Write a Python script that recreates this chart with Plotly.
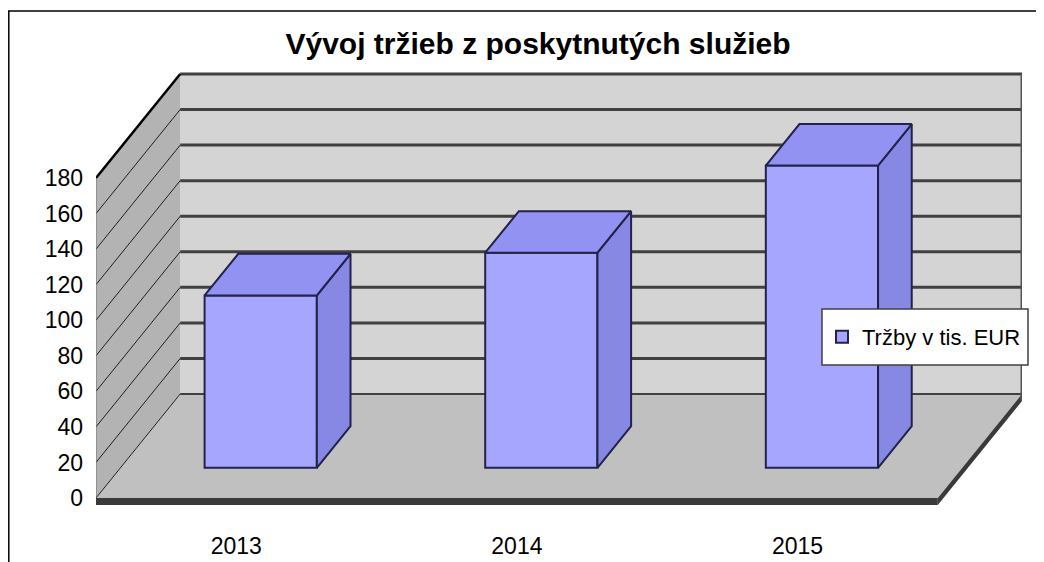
import plotly.graph_objects as go

# ---------------- data ----------------
years = ["2013", "2014", "2015"]
revenue = [97, 121, 170]
y_ticks = [0, 20, 40, 60, 80, 100, 120, 140, 160, 180]
title_text = "Vývoj tržieb z poskytnutých služieb"
series_name = "Tržby v tis. EUR"

# ---------------- 3D geometry (oblique projection in data units) ----------------
DX = 0.30      # full depth offset along x (category units)
DY = 58.5      # full depth offset along y (value units)
D0, D1 = 0.29, 0.69   # bar front / back depth fractions
BW = 0.40      # bar width
YMAX = y_ticks[-1]
FT = 4         # floor thickness (value units)

x_idx = list(range(len(years)))
xl0, xr0 = -0.5, len(years) - 0.5

OFF = 8  # page body margin
W, H = 1044 - OFF, 562 - OFF
ML, MR, MT, MB = 96 - OFF, 22, 71 - OFF, 55
PW, PH = W - ML - MR, H - MT - MB


def ppx(px):  # page pixel -> paper x
    return (px - OFF - ML) / PW


def ppy(py):  # page pixel -> paper y
    return 1 - (py - OFF - MT) / PH


shapes = []
# back wall
shapes.append(dict(type="rect", xref="x", yref="y", x0=xl0 + DX, x1=xr0 + DX, y0=DY, y1=YMAX + DY,
                   fillcolor="#D4D4D4", line=dict(width=0), layer="below"))
# left wall
shapes.append(dict(type="path", xref="x", yref="y",
                   path=f"M{xl0},0 L{xl0 + DX},{DY} L{xl0 + DX},{YMAX + DY} L{xl0},{YMAX} Z",
                   fillcolor="#B3B3B3", line=dict(width=0), layer="below"))
# floor
shapes.append(dict(type="path", xref="x", yref="y",
                   path=f"M{xl0},0 L{xr0},0 L{xr0 + DX},{DY} L{xl0 + DX},{DY} Z",
                   fillcolor="#C0C0C0", line=dict(width=0), layer="below"))
# floor thickness (front and right)
shapes.append(dict(type="rect", xref="x", yref="y", x0=xl0, x1=xr0, y0=-FT, y1=0,
                   fillcolor="#3A3A3A", line=dict(width=0), layer="below"))
shapes.append(dict(type="path", xref="x", yref="y",
                   path=f"M{xr0},0 L{xr0 + DX},{DY} L{xr0 + DX},{DY - FT} L{xr0},{-FT} Z",
                   fillcolor="#3A3A3A", line=dict(width=0), layer="below"))
# back wall gridlines
for v in y_ticks:
    shapes.append(dict(type="line", xref="x", yref="y", x0=xl0 + DX, x1=xr0 + DX, y0=v + DY, y1=v + DY,
                       line=dict(color="#404040", width=3 if v > 0 else 2), layer="below"))
# back wall right edge
shapes.append(dict(type="line", xref="x", yref="y", x0=xr0 + DX, x1=xr0 + DX, y0=DY - FT, y1=YMAX + DY,
                   line=dict(color="#555555", width=3), layer="below"))
# left wall slanted gridlines
for v in y_ticks:
    shapes.append(dict(type="line", xref="x", yref="y", x0=xl0, x1=xl0 + DX, y0=v, y1=v + DY,
                       line=dict(color="#202020", width=1), layer="below"))
# left wall top edge
shapes.append(dict(type="line", xref="x", yref="y", x0=xl0, x1=xl0 + DX, y0=YMAX, y1=YMAX + DY,
                   line=dict(color="#000000", width=2.5), layer="below"))
shapes.append(dict(type="line", xref="x", yref="y", x0=xl0, x1=xl0, y0=0, y1=YMAX,
                   line=dict(color="#707070", width=1), layer="below"))

# outer frame (left and top)
shapes.append(dict(type="line", xref="paper", yref="paper", x0=ppx(8.8), x1=ppx(8.8), y0=ppy(11), y1=ppy(562),
                   line=dict(color="#000000", width=1.5)))
shapes.append(dict(type="line", xref="paper", yref="paper", x0=ppx(8), x1=ppx(1044), y0=ppy(11), y1=ppy(11),
                   line=dict(color="#000000", width=1.5)))

# legend box
shapes.append(dict(type="rect", xref="paper", yref="paper", x0=ppx(822), x1=ppx(1028), y0=ppy(365), y1=ppy(309),
                   fillcolor="#FFFFFF", line=dict(color="#404040", width=1.5), layer="above"))

fig = go.Figure()

EDGE = "#22224C"
dxx = (D1 - D0) * DX
dyy = (D1 - D0) * DY
yb = D0 * DY

# side and top faces
for i, h in zip(x_idx, revenue):
    xl = i - BW / 2 + D0 * DX
    xr = xl + BW
    yt = h + yb
    fig.add_trace(go.Scatter(x=[xr, xr + dxx, xr + dxx, xr, xr], y=[yb, yb + dyy, yt + dyy, yt, yb],
                             mode="lines", fill="toself", fillcolor="#8787E4",
                             line=dict(color=EDGE, width=2), showlegend=False, hoverinfo="skip"))
    fig.add_trace(go.Scatter(x=[xl, xr, xr + dxx, xl + dxx, xl], y=[yt, yt, yt + dyy, yt + dyy, yt],
                             mode="lines", fill="toself", fillcolor="#9292F3",
                             line=dict(color=EDGE, width=2), showlegend=False, hoverinfo="skip"))

# front faces
fig.add_trace(go.Bar(x=[i + D0 * DX for i in x_idx], y=revenue, base=yb, width=BW,
                     name=series_name, marker=dict(color="#A6A6FF", line=dict(color=EDGE, width=2)),
                     hoverinfo="skip"))

# y scale: value 0 at page py=498, value YMAX+DY at page py=74
ppu = (498 - 74) / (YMAX + DY)
y_lo = -(MT + PH - (498 - OFF)) / ppu
y_hi = ((498 - OFF) - MT) / ppu

fig.update_layout(
    width=W, height=H,
    margin=dict(l=ML, r=MR, t=MT, b=MB, autoexpand=False),
    paper_bgcolor="#FFFFFF", plot_bgcolor="#FFFFFF",
    font=dict(family="Liberation Sans, Arial, sans-serif", color="#000000"),
    title=dict(text=title_text, x=(538 - OFF) / W, xanchor="center", y=1 - (43 - OFF) / H, yanchor="middle",
               font=dict(size=30, weight=700, color="#000000")),
    shapes=shapes,
    showlegend=True,
    legend=dict(x=ppx(822), y=ppy(337), xanchor="left", yanchor="middle",
                bgcolor="rgba(0,0,0,0)", borderwidth=0, font=dict(size=22)),
    xaxis=dict(range=[xl0, xr0 + DX], tickvals=x_idx, ticktext=years, showgrid=False, zeroline=False,
               showline=False, ticks="", tickfont=dict(size=23), ticklabelstandoff=23, fixedrange=True),
    yaxis=dict(range=[y_lo, y_hi], tickvals=y_ticks, showgrid=False, zeroline=False, showline=False,
               ticks="", tickfont=dict(size=23), ticklabelstandoff=12, fixedrange=True),
)

fig.write_html("out.html")
